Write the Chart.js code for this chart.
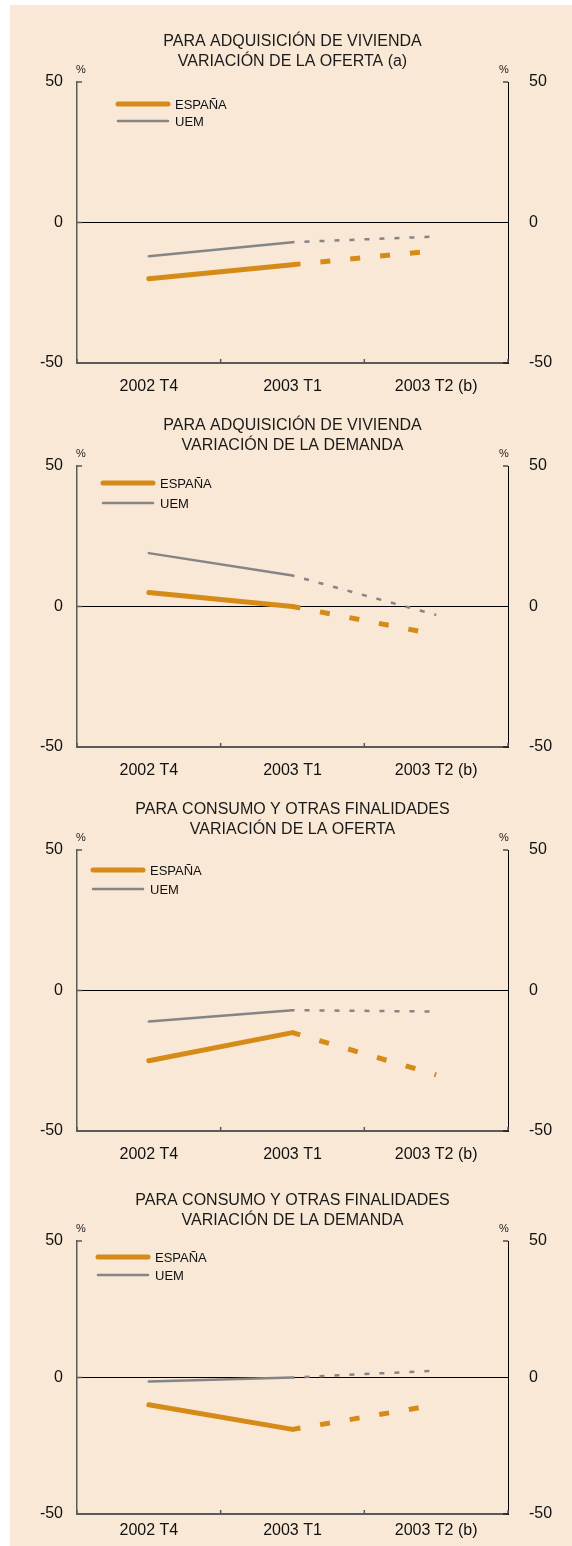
<!DOCTYPE html>
<html>
<head>
<meta charset="utf-8">
<script src="https://cdn.jsdelivr.net/npm/chart.js@4.4.0/dist/chart.umd.min.js"></script>
<style>
  html, body { margin: 0; padding: 0; background: #fff; overflow: hidden; }
  #page { position: absolute; left: 10px; top: 5px; width: 562px; height: 1541px; background: #F8E8D5; }
  canvas { position: absolute; left: 0; }
</style>
</head>
<body>
<div id="page"></div>
<canvas id="c0" width="572" height="384" style="top:20px"></canvas>
<canvas id="c1" width="572" height="384" style="top:404px"></canvas>
<canvas id="c2" width="572" height="384" style="top:788px"></canvas>
<canvas id="c3" width="572" height="367" style="top:1179px"></canvas>
<script>
// categorías y series (%)
const categories = ['2002 T4', '2003 T1', '2003 T2 (b)'];
const yTicks = [-50, 0, 50];

const vivOfertaEsp = [-20, -15, -10];
const vivOfertaUem = [-12, -7, -5];
const vivDemandaEsp = [5, 0, -10];
const vivDemandaUem = [19, 11, -3];
const conOfertaEsp = [-25, -15, -30];
const conOfertaUem = [-11, -7, -7.5];
const conDemandaEsp = [-10, -19, -10];
const conDemandaUem = [-1.5, 0, 2.5];

const titles = [
    ['PARA ADQUISICIÓN DE VIVIENDA', 'VARIACIÓN DE LA OFERTA (a)'],
    ['PARA ADQUISICIÓN DE VIVIENDA', 'VARIACIÓN DE LA DEMANDA'],
    ['PARA CONSUMO Y OTRAS FINALIDADES', 'VARIACIÓN DE LA OFERTA'],
    ['PARA CONSUMO Y OTRAS FINALIDADES', 'VARIACIÓN DE LA DEMANDA']
];

const ORANGE = '#D68A18';
const GREY = '#858585';
const FONT = 'Liberation Sans, Arial, sans-serif';

// el último tramo (previsión) va discontinuo
const dashed = (pattern, offset) => ({
    borderDash: ctx => ctx.p0DataIndex >= 1 ? pattern : [],
    borderDashOffset: ctx => ctx.p0DataIndex >= 1 ? offset : 0,
    borderCapStyle: ctx => ctx.p0DataIndex >= 1 ? 'butt' : 'round'
});

const decor = {
    id: 'decor',
    afterDraw(chart, args, opts) {
        const {ctx, chartArea: a, scales: {x, y}} = chart;
        const seg = (x0, y0, x1, y1) => { ctx.beginPath(); ctx.moveTo(x0, y0); ctx.lineTo(x1, y1); ctx.stroke(); };
        ctx.save();
        // marcas hacia dentro
        ctx.strokeStyle = '#5a5a5a';
        ctx.lineWidth = 1.5;
        yTicks.forEach(v => seg(a.left, y.getPixelForValue(v), a.left + 5, y.getPixelForValue(v)));
        const n = categories.length;
        for (let i = 0; i <= n; i++) {
            const px = a.left + i * (a.right - a.left) / n;
            seg(px, a.bottom, px, a.bottom - 4);
        }
        ctx.strokeStyle = '#000';
        ctx.lineWidth = 1;
        yTicks.forEach(v => seg(a.right, y.getPixelForValue(v), a.right - 5, y.getPixelForValue(v)));
        // unidades
        ctx.fillStyle = '#222';
        ctx.font = '11px ' + FONT;
        ctx.textAlign = 'center';
        ctx.textBaseline = 'middle';
        ctx.fillText('%', a.left + 4, a.top - 12);
        ctx.fillText('%', a.right - 4, a.top - 12);
        // leyenda
        ctx.font = '13px ' + FONT;
        ctx.textAlign = 'left';
        chart.data.datasets.forEach((ds, i) => {
            const lx = a.left + opts.left;
            const ly = a.top + opts.top + i * opts.gap;
            ctx.strokeStyle = ds.borderColor;
            ctx.lineWidth = ds.borderWidth;
            ctx.lineCap = 'round';
            seg(lx, ly, lx + 50, ly);
            ctx.fillStyle = '#111';
            ctx.fillText(ds.label, lx + 57, ly + 1);
        });
        ctx.restore();
    }
};

const makeChart = (id, title, esp, uem, legendPos, axisH, labelPad) => {
    const canvas = document.getElementById(id);
    return new Chart(canvas, {
        type: 'line',
        data: {
            labels: categories,
            datasets: [
                {label: 'ESPAÑA', data: esp, borderColor: ORANGE, borderWidth: 5, pointRadius: 0,
                 segment: dashed([10, 20], 2)},
                {label: 'UEM', data: uem, borderColor: GREY, borderWidth: 2.5, pointRadius: 0,
                 segment: dashed([5, 10], 3)}
            ]
        },
        options: {
            responsive: false,
            animation: false,
            devicePixelRatio: 1,
            layout: {padding: 0},
            plugins: {
                legend: {display: false},
                tooltip: {enabled: false},
                title: {display: true, text: title, fullSize: false, color: '#1a1a1a',
                        font: {family: FONT, size: 16, weight: 'normal', lineHeight: 1.25},
                        padding: {top: 12, bottom: 10}},
                decor: legendPos
            },
            scales: {
                x: {
                    offset: true,
                    grid: {display: false, drawTicks: false, offset: true},
                    border: {display: true, color: '#5a5a5a', width: 2},
                    ticks: {color: '#111', font: {family: FONT, size: 16}, padding: labelPad, maxRotation: 0},
                    afterFit: s => { s.height = axisH; }
                },
                y: {
                    position: 'left', min: -50, max: 50,
                    afterBuildTicks: s => { s.ticks = yTicks.map(v => ({value: v})); },
                    grid: {drawTicks: false, lineWidth: 1,
                           color: c => c.tick && c.tick.value === 0 ? '#000' : 'rgba(0,0,0,0)'},
                    border: {display: true, color: '#5a5a5a', width: 1.5},
                    ticks: {color: '#111', font: {family: FONT, size: 16}, padding: 14},
                    afterFit: s => { s.width = 77; }
                },
                y2: {
                    position: 'right', min: -50, max: 50,
                    afterBuildTicks: s => { s.ticks = yTicks.map(v => ({value: v})); },
                    grid: {display: false},
                    border: {display: true, color: '#000', width: 1},
                    ticks: {color: '#111', font: {family: FONT, size: 16}, padding: 13},
                    afterFit: s => { s.width = 64; }
                }
            }
        },
        plugins: [decor]
    });
};

makeChart('c0', titles[0], vivOfertaEsp, vivOfertaUem, {left: 41, top: 22, gap: 17}, 41, 14);
makeChart('c1', titles[1], vivDemandaEsp, vivDemandaUem, {left: 26, top: 17, gap: 20}, 41, 14);
makeChart('c2', titles[2], conOfertaEsp, conOfertaUem, {left: 16, top: 20, gap: 19}, 41, 14);
makeChart('c3', titles[3], conDemandaEsp, conDemandaUem, {left: 21, top: 16, gap: 18}, 32, 7);
</script>
</body>
</html>
